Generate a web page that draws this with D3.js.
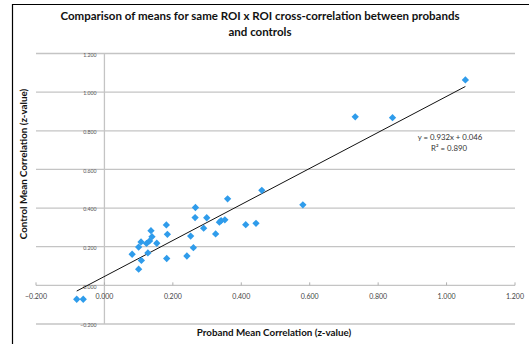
<!DOCTYPE html>
<html><head><meta charset="utf-8">
<script src="https://cdn.jsdelivr.net/npm/d3@7"></script>
<style>html,body{margin:0;padding:0;background:#fff;}svg{display:block;}</style>
</head><body>
<script>
const proband = [-0.081,-0.062,0.081,0.100,0.107,0.123,0.132,0.136,0.139,0.153,0.100,0.108,0.127,0.181,0.184,0.182,0.241,0.252,0.260,0.266,0.265,0.299,0.290,0.325,0.336,0.341,0.352,0.360,0.413,0.443,0.460,0.580,0.733,0.842,1.055];
const control = [-0.072,-0.072,0.161,0.198,0.225,0.217,0.230,0.283,0.252,0.218,0.084,0.129,0.168,0.313,0.264,0.139,0.152,0.255,0.195,0.403,0.351,0.350,0.296,0.266,0.327,0.335,0.339,0.448,0.314,0.321,0.492,0.417,0.872,0.868,1.063];
const xTicks = [-0.2,0,0.2,0.4,0.6,0.8,1.0,1.2];
const yTicks = [-0.2,0,0.2,0.4,0.6,0.8,1.0,1.2];
const slope = 0.932, intercept = 0.046;
const eqLabel = "y = 0.932x + 0.046";
const r2Label = "R² = 0.890";
const title1 = "Comparison of means for same ROI x ROI cross-correlation between probands";
const title2 = "and controls";
const xTitle = "Proband Mean Correlation (z-value)";
const yTitle = "Control Mean Correlation (z-value)";

const W = 529, H = 344;
const svg = d3.select("body").append("svg").attr("width", W).attr("height", H);
const x = d3.scaleLinear().domain([-0.2, 1.2]).range([36, 515]);
const y = d3.scaleLinear().domain([-0.2, 1.2]).range([324, 53.5]);
const FONT = "Lato, 'Open Sans', sans-serif";

// frame
svg.append("line").attr("x1", 12.5).attr("x2", 12.5).attr("y1", 4).attr("y2", H).attr("stroke", "#000").attr("stroke-width", 1.2);
svg.append("line").attr("x1", 12).attr("x2", W).attr("y1", 4.5).attr("y2", 4.5).attr("stroke", "#000").attr("stroke-width", 1.2);

// horizontal gridlines
svg.append("g").selectAll("line").data(yTicks).join("line")
  .attr("x1", x(-0.2)).attr("x2", x(1.2))
  .attr("y1", d => y(d)).attr("y2", d => y(d))
  .attr("stroke", "#c4c4c4").attr("stroke-width", 1.3);

// vertical axis at x=0
svg.append("line").attr("x1", x(0)).attr("x2", x(0)).attr("y1", y(1.2)).attr("y2", y(-0.2))
  .attr("stroke", "#c4c4c4").attr("stroke-width", 1.3);

// x axis ticks on y=0 line
svg.append("g").selectAll("line").data(xTicks).join("line")
  .attr("x1", d => x(d)).attr("x2", d => x(d))
  .attr("y1", y(0)).attr("y2", y(0) - 3)
  .attr("stroke", "#b0b0b0").attr("stroke-width", 1);

// y tick labels
svg.append("g").selectAll("text").data(yTicks).join("text")
  .attr("x", x(0) - 8).attr("y", d => y(d) + 2)
  .attr("text-anchor", "end").attr("dominant-baseline", "middle")
  .attr("font-family", FONT).attr("font-size", 5.2).attr("fill", "#555")
  .text(d => d3.format(".3f")(d));

// x tick labels
svg.append("g").selectAll("text").data(xTicks).join("text")
  .attr("x", d => x(d)).attr("y", 297.5)
  .attr("text-anchor", "middle").attr("dominant-baseline", "middle")
  .attr("font-family", FONT).attr("font-size", 7).attr("fill", "#444")
  .text(d => d3.format(".3f")(d));

// trendline
const x0 = d3.min(proband), x1 = d3.max(proband);
svg.append("line")
  .attr("x1", x(x0)).attr("y1", y(slope * x0 + intercept))
  .attr("x2", x(x1)).attr("y2", y(slope * x1 + intercept))
  .attr("stroke", "#111").attr("stroke-width", 1);

// points
const pts = proband.map((v, i) => [v, control[i]]);
svg.append("g").selectAll("path").data(pts).join("path")
  .attr("d", d3.symbol().type(d3.symbolDiamond2).size(34))
  .attr("transform", d => `translate(${x(d[0])},${y(d[1])})`)
  .attr("fill", "#2f9ceb");

// equation
svg.append("text").attr("x", 450).attr("y", 138).attr("text-anchor", "middle").attr("dominant-baseline", "middle")
  .attr("font-family", FONT).attr("font-size", 7.8).attr("fill", "#333").text(eqLabel);
svg.append("text").attr("x", 449).attr("y", 149).attr("text-anchor", "middle").attr("dominant-baseline", "middle")
  .attr("font-family", FONT).attr("font-size", 7.8).attr("fill", "#333").text(r2Label);

// titles
svg.append("text").attr("x", 260).attr("y", 17).attr("text-anchor", "middle").attr("dominant-baseline", "middle")
  .attr("font-family", FONT).attr("font-weight", "bold").attr("font-size", 11.5).attr("fill", "#111").text(title1);
svg.append("text").attr("x", 260).attr("y", 33).attr("text-anchor", "middle").attr("dominant-baseline", "middle")
  .attr("font-family", FONT).attr("font-weight", "bold").attr("font-size", 11.5).attr("fill", "#111").text(title2);
svg.append("text").attr("x", 274).attr("y", 333).attr("text-anchor", "middle").attr("dominant-baseline", "middle")
  .attr("font-family", FONT).attr("font-weight", "bold").attr("font-size", 9.8).attr("fill", "#111").text(xTitle);
svg.append("text").attr("transform", "translate(24,164) rotate(-90)").attr("text-anchor", "middle").attr("dominant-baseline", "middle")
  .attr("font-family", FONT).attr("font-weight", "bold").attr("font-size", 9.8).attr("fill", "#111").text(yTitle);
</script>
</body></html>
